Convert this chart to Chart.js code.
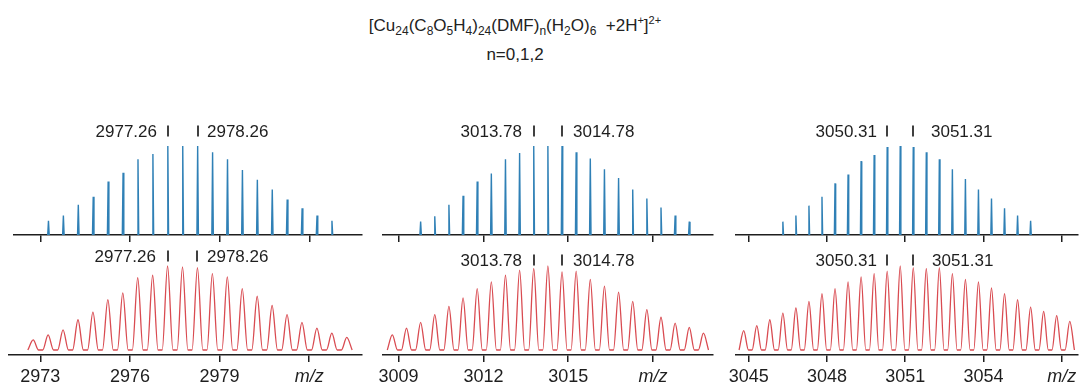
<!DOCTYPE html>
<html>
<head>
<meta charset="utf-8">
<script src="https://cdn.jsdelivr.net/npm/chart.js@4.4.0/dist/chart.umd.min.js"></script>
<style>
  body { margin: 0; background: #fff; font-family: "Liberation Sans", Arial, sans-serif; }
  #wrap { position: relative; width: 1081px; height: 388px; overflow: hidden; }
  .title { position: absolute; left: 0; width: 1030px; text-align: center; color: #222; font-size: 17px; line-height: 20px; }
  .title sub { font-size: 12px; vertical-align: -4px; line-height: 0; }
  .title sup { font-size: 11px; vertical-align: 7px; line-height: 0; }
  canvas { position: absolute; }
</style>
</head>
<body>
<div id="wrap">
  <div class="title" style="top:16px">[Cu<sub>24</sub>(C<sub>8</sub>O<sub>5</sub>H<sub>4</sub>)<sub>24</sub>(DMF)<sub>n</sub>(H<sub>2</sub>O)<sub>6</sub>&nbsp; +2H<sup>+</sup>]<sup>2+</sup></div>
  <div class="title" style="top:45px">n=0,1,2</div>
  <canvas id="calc0"></canvas>
  <canvas id="exp0"></canvas>
  <canvas id="calc1"></canvas>
  <canvas id="exp1"></canvas>
  <canvas id="calc2"></canvas>
  <canvas id="exp2"></canvas>
</div>
<script>
// n = 0 : simulated isotope pattern (blue) and measured profile (red)
const calcMz0 = [2973.26, 2973.76, 2974.26, 2974.76, 2975.26, 2975.76, 2976.26, 2976.76, 2977.26, 2977.76,
                 2978.26, 2978.76, 2979.26, 2979.76, 2980.26, 2980.76, 2981.26, 2981.76, 2982.26, 2982.76];
const calcInt0 = [16, 22, 34, 43, 60, 70, 85, 91, 100, 100, 100, 93, 85, 73, 62, 51, 40, 30, 22, 16];
const expMz0 = [2972.76, 2973.26, 2973.76, 2974.26, 2974.76, 2975.26, 2975.76, 2976.26, 2976.76, 2977.26, 2977.76,
                2978.26, 2978.76, 2979.26, 2979.76, 2980.26, 2980.76, 2981.26, 2981.76, 2982.26, 2982.76, 2983.26];
const expInt0 = [12, 18, 24, 36, 45, 60, 68, 86, 89, 100, 99, 98, 91, 87, 73, 64, 53, 42, 33, 26, 20, 15];
const ticks0 = [2973, 2976, 2979, 2982];
const marks0 = [2977.26, 2978.26];

// n = 1
const calcMz1 = [3009.78, 3010.28, 3010.78, 3011.28, 3011.78, 3012.28, 3012.78, 3013.28, 3013.78, 3014.28,
                 3014.78, 3015.28, 3015.78, 3016.28, 3016.78, 3017.28, 3017.78, 3018.28, 3018.78, 3019.28];
const calcInt1 = [15, 21, 34, 44, 60, 69, 85, 92, 100, 100, 100, 93, 86, 74, 64, 51, 41, 31, 22, 15];
const expMz1 = [3008.78, 3009.28, 3009.78, 3010.28, 3010.78, 3011.28, 3011.78, 3012.28, 3012.78, 3013.28, 3013.78, 3014.28,
                3014.78, 3015.28, 3015.78, 3016.28, 3016.78, 3017.28, 3017.78, 3018.28, 3018.78, 3019.28, 3019.78];
const expInt1 = [18, 26, 33, 42, 52, 62, 73, 81, 89, 95, 97, 100, 93, 94, 84, 76, 69, 58, 48, 39, 32, 27, 20];
const ticks1 = [3009, 3012, 3015, 3018];
const marks1 = [3013.78, 3014.78];

// n = 2
const calcMz2 = [3046.31, 3046.81, 3047.31, 3047.81, 3048.31, 3048.81, 3049.31, 3049.81, 3050.31, 3050.81,
                 3051.31, 3051.81, 3052.31, 3052.81, 3053.31, 3053.81, 3054.31, 3054.81, 3055.31, 3055.81];
const calcInt2 = [15, 22, 33, 43, 58, 68, 83, 90, 99, 100, 99, 93, 85, 74, 63, 51, 41, 30, 22, 16];
const expMz2 = [3044.81, 3045.31, 3045.81, 3046.31, 3046.81, 3047.31, 3047.81, 3048.31, 3048.81, 3049.31, 3049.81, 3050.31, 3050.81,
                3051.31, 3051.81, 3052.31, 3052.81, 3053.31, 3053.81, 3054.31, 3054.81, 3055.31, 3055.81, 3056.31, 3056.81, 3057.31];
const expInt2 = [23, 29, 36, 44, 50, 58, 67, 73, 81, 87, 91, 94, 100, 98, 97, 98, 91, 84, 81, 74, 67, 60, 51, 46, 41, 34];
const ticks2 = [3045, 3048, 3051, 3054, 3057];
const marks2 = [3050.31, 3051.31];

const BLUE = '#2f80b6';
const RED = '#d94b51';
const INK = '#1e1e1e';

Chart.defaults.font.family = '"Liberation Sans", Arial, sans-serif';
Chart.defaults.color = INK;

// each peak as a thin spike, separated by gaps
function sticks(mz, inten, half) {
  const pts = [];
  mz.forEach((m, i) => {
    pts.push({x: m - half, y: 0}, {x: m, y: inten[i]}, {x: m + half, y: 0}, {x: m + half, y: null});
  });
  return pts;
}

// continuous trace: baseline - apex - baseline for every peak
function profile(mz, inten, half) {
  const pts = [];
  mz.forEach((m, i) => {
    pts.push({x: m - half, y: 0}, {x: m, y: inten[i]}, {x: m + half, y: 0});
  });
  return pts;
}

// short vertical bar at a peak with its m/z written beside it
const peakMarks = {
  id: 'peakMarks',
  afterDraw(chart, args, opts) {
    if (!opts.values) return;
    const ctx = chart.ctx;
    const x = chart.scales.x;
    ctx.save();
    ctx.font = '17px "Liberation Sans", Arial, sans-serif';
    ctx.fillStyle = INK;
    ctx.strokeStyle = INK;
    ctx.lineWidth = 1.7;
    ctx.textBaseline = 'middle';
    opts.values.forEach((v, i) => {
      const px = Math.round(x.getPixelForValue(v));
      ctx.beginPath();
      ctx.moveTo(px, opts.y - 5.5);
      ctx.lineTo(px, opts.y + 5.5);
      ctx.stroke();
      if (i === 0) {
        ctx.textAlign = 'right';
        ctx.fillText(v.toFixed(2), px - opts.gaps[0], opts.y + 1);
      } else {
        ctx.textAlign = 'left';
        ctx.fillText(v.toFixed(2), px + opts.gaps[1], opts.y + 1);
      }
    });
    ctx.restore();
  }
};

function spectrum(id, cfg) {
  const pad = 30;
  const canvas = document.getElementById(id);
  canvas.width = cfg.right - cfg.left + 2 * pad;
  canvas.height = cfg.bottom - cfg.top;
  canvas.style.left = (cfg.left - pad) + 'px';
  canvas.style.top = cfg.top + 'px';
  const last = cfg.ticks[cfg.ticks.length - 1];
  const axisH = cfg.bottom - cfg.axisY;
  const plotH = cfg.axisY - cfg.top;
  const yMin = -cfg.lift / cfg.pxPer100 * 100;
  const yMax = yMin + plotH / cfg.pxPer100 * 100;

  return new Chart(canvas, {
    type: 'line',
    data: {
      datasets: [{
        data: cfg.data,
        borderColor: cfg.color,
        borderWidth: cfg.lineWidth,
        pointRadius: 0,
        fill: false,
        spanGaps: false,
        tension: cfg.smooth ? 0.4 : 0,
        cubicInterpolationMode: cfg.smooth ? 'monotone' : 'default'
      }]
    },
    options: {
      responsive: false,
      animation: false,
      layout: { padding: { left: pad, right: pad, top: 0, bottom: 0 } },
      plugins: {
        legend: { display: false },
        tooltip: { enabled: false },
        peakMarks: { values: cfg.marks, y: cfg.markY - cfg.top, gaps: cfg.gaps }
      },
      scales: {
        x: {
          type: 'linear',
          min: cfg.min,
          max: cfg.max,
          afterBuildTicks: s => { s.ticks = cfg.ticks.map(v => ({ value: v })); },
          afterFit: s => { s.height = axisH; },
          border: { display: true, color: INK, width: 1.5 },
          grid: { display: true, drawOnChartArea: false, drawTicks: true, tickLength: 7, color: INK, lineWidth: 1.5 },
          ticks: {
            display: cfg.labels,
            padding: 4,
            color: INK,
            maxRotation: 0,
            autoSkip: false,
            font: c => ({ size: 18, style: c.tick && c.tick.value === last ? 'italic' : 'normal' }),
            callback: v => (v === last ? 'm/z' : String(v))
          }
        },
        y: { display: false, min: yMin, max: yMax }
      }
    },
    plugins: [peakMarks]
  });
}

const TOP = { top: 112, axisY: 235, bottom: 245, markY: 131, lift: 0, pxPer100: 89 };
const BOT = { top: 240, axisY: 355, bottom: 388, lift: 5, pxPer100: 84 };

spectrum('calc0', Object.assign({}, TOP, { left: 14, right: 362, min: 2972.105, max: 2983.767, ticks: ticks0,
  data: sticks(calcMz0, calcInt0, 0.025), color: BLUE, lineWidth: 1.4, labels: false, marks: marks0, gaps: [11, 9] }));
spectrum('exp0', Object.assign({}, BOT, { left: 9, right: 362, min: 2971.95, max: 2983.77, ticks: ticks0, markY: 256,
  data: profile(expMz0, expInt0, 0.18), color: RED, lineWidth: 1.3, smooth: true, labels: true, marks: marks0, gaps: [12, 10] }));

spectrum('calc1', Object.assign({}, TOP, { left: 383, right: 713, min: 3008.449, max: 3020.119, ticks: ticks1,
  data: sticks(calcMz1, calcInt1, 0.025), color: BLUE, lineWidth: 1.4, labels: false, marks: marks1, gaps: [12, 11] }));
spectrum('exp1', Object.assign({}, BOT, { left: 383, right: 713, min: 3008.449, max: 3020.119, ticks: ticks1, markY: 260,
  data: profile(expMz1, expInt1, 0.18), color: RED, lineWidth: 1.3, smooth: true, labels: true, marks: marks1, gaps: [12, 11] }));

spectrum('calc2', Object.assign({}, TOP, { left: 736, right: 1078, min: 3044.513, max: 3057.627, ticks: ticks2,
  data: sticks(calcMz2, calcInt2, 0.025), color: BLUE, lineWidth: 1.4, labels: false, marks: marks2, gaps: [10, 18] }));
spectrum('exp2', Object.assign({}, BOT, { left: 736, right: 1078, min: 3044.513, max: 3057.627, ticks: ticks2, markY: 260,
  data: profile(expMz2, expInt2, 0.18), color: RED, lineWidth: 1.3, smooth: true, labels: true, marks: marks2, gaps: [10, 19] }));
</script>
</body>
</html>
